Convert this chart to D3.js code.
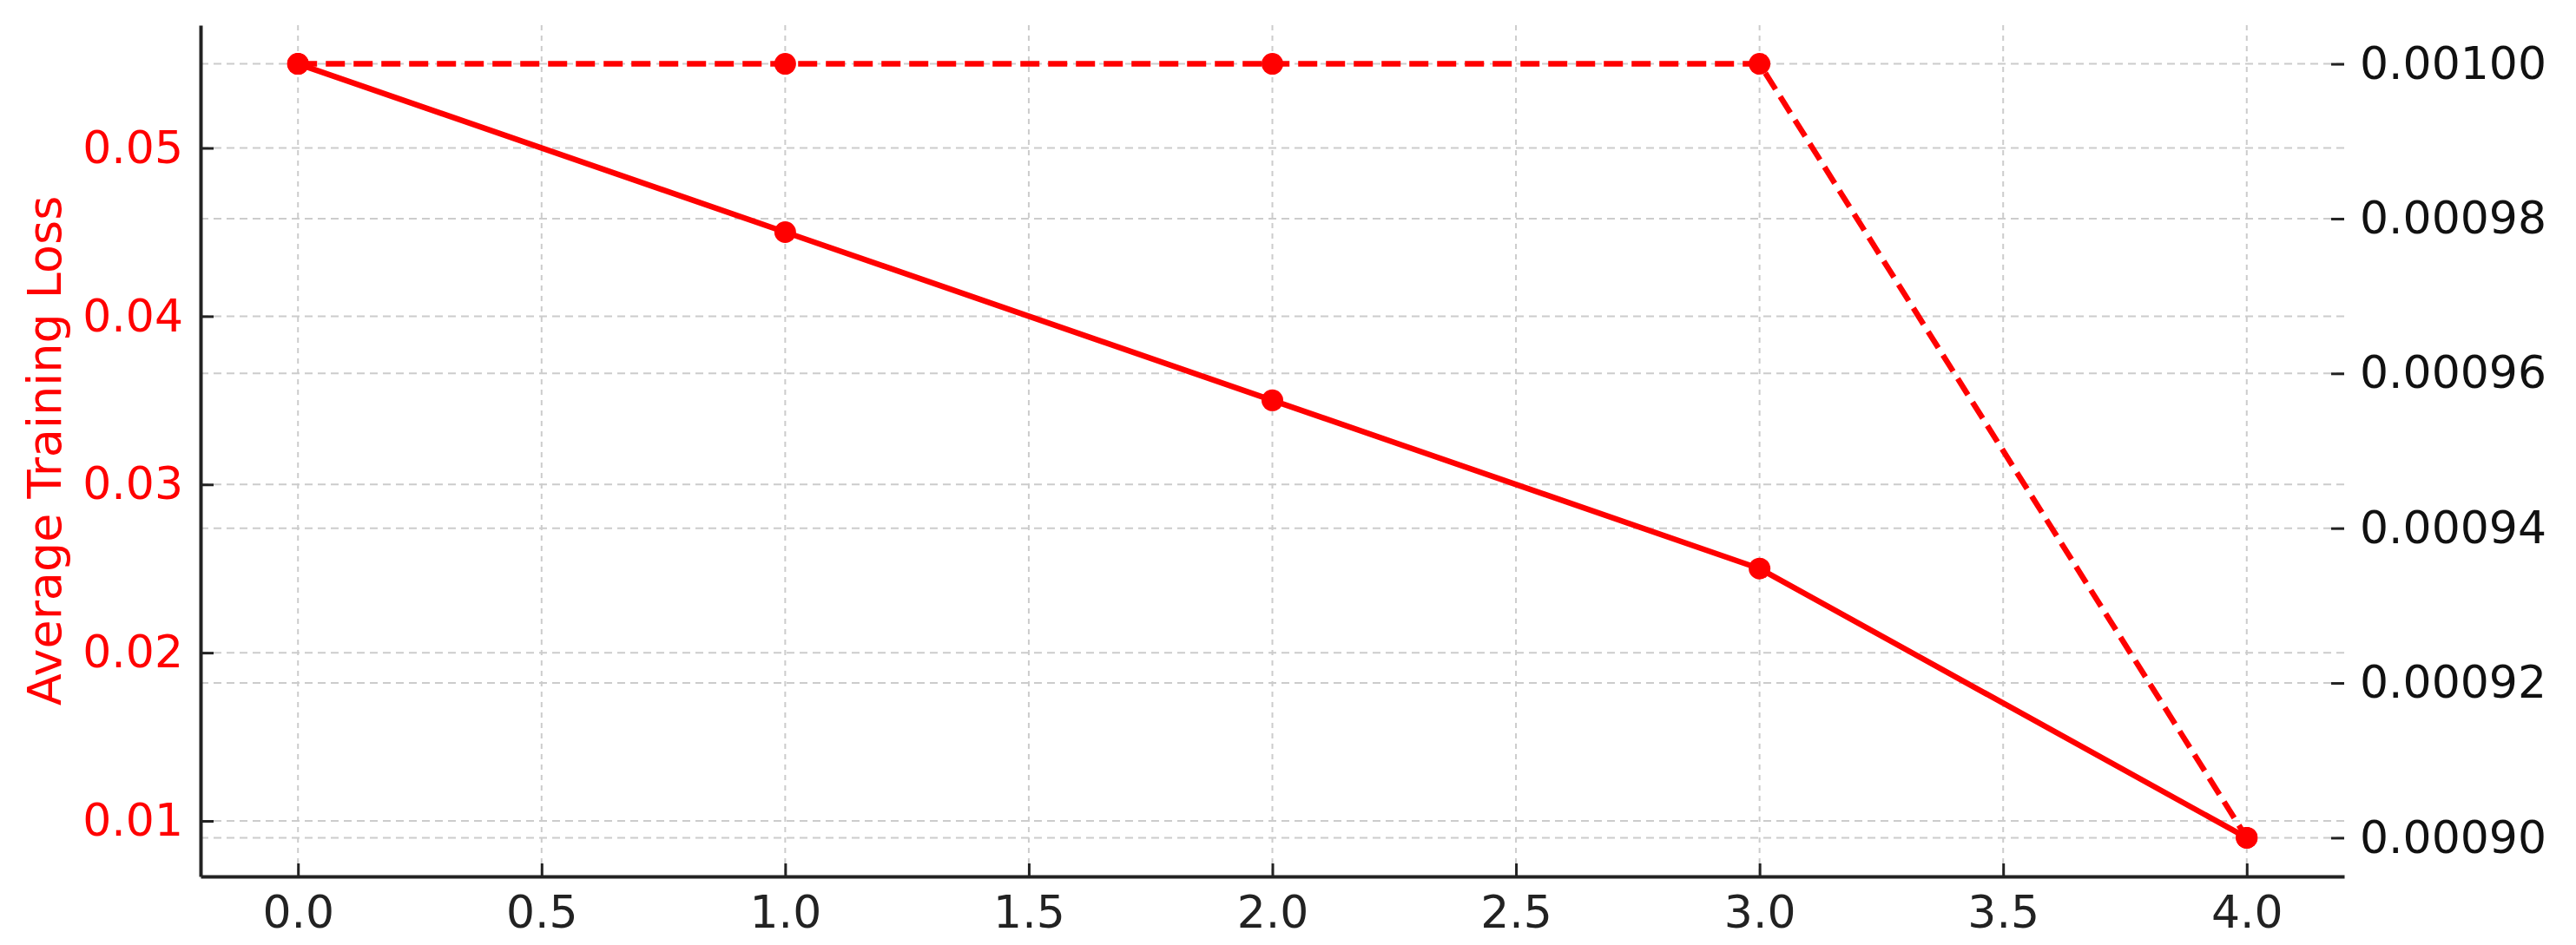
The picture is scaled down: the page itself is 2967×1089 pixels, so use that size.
<!DOCTYPE html>
<html>
<head>
<meta charset="utf-8">
<script src="https://cdn.jsdelivr.net/npm/d3@7"></script>
<style>
  html, body { margin: 0; padding: 0; background: #fff; }
  svg { display: block; }
  text { font-family: "DejaVu Sans", sans-serif; }
</style>
</head>
<body>
<svg id="chart" width="2967" height="1089"></svg>
<script>
// ---- data ----
const epochs = [0, 1, 2, 3, 4];
const avgLoss = [0.055, 0.045, 0.035, 0.025, 0.009];
const learningRate = [0.001, 0.001, 0.001, 0.001, 0.0009];
const xTicks = [0, 0.5, 1, 1.5, 2, 2.5, 3, 3.5, 4];
const lossTicks = [0.01, 0.02, 0.03, 0.04, 0.05];
const lrTicks = [0.0009, 0.00092, 0.00094, 0.00096, 0.00098, 0.001];
const lossLabel = "Average Training Loss";

// ---- layout ----
const plotLeft = 231, plotRight = 2700, plotTop = 29, plotBottom = 1010;
const red = "#ff0000";
const fs = 52;

const svg = d3.select("#chart");

function padded(ext) {
  const r = ext[1] - ext[0];
  return [ext[0] - r * 0.05, ext[1] + r * 0.05];
}

const x = d3.scaleLinear().domain(padded(d3.extent(epochs))).range([plotLeft, plotRight]);
const yL = d3.scaleLinear().domain(padded(d3.extent(avgLoss))).range([plotBottom, plotTop]);
const yR = d3.scaleLinear().domain(padded(d3.extent(learningRate))).range([plotBottom, plotTop]);

// ---- grid ----
const grid = svg.append("g").attr("class", "grid")
  .attr("stroke", "#cccccc").attr("stroke-width", 2).attr("fill", "none");

grid.selectAll("line.vx").data(xTicks).join("line").attr("class", "vx")
  .attr("stroke-dasharray", "6,6")
  .attr("x1", d => x(d)).attr("x2", d => x(d)).attr("y1", plotTop).attr("y2", plotBottom);
grid.selectAll("line.hl").data(lossTicks).join("line").attr("class", "hl")
  .attr("stroke-dasharray", "9,6")
  .attr("x1", plotLeft).attr("x2", plotRight).attr("y1", d => yL(d)).attr("y2", d => yL(d));
grid.selectAll("line.hr").data(lrTicks).join("line").attr("class", "hr")
  .attr("stroke-dasharray", "9,6")
  .attr("x1", plotLeft).attr("x2", plotRight).attr("y1", d => yR(d)).attr("y2", d => yR(d));

// ---- axes ----
const xAxis = d3.axisBottom(x).tickValues(xTicks).tickFormat(d3.format(".1f"))
  .tickSizeInner(-15).tickSizeOuter(0).tickPadding(22);
const gx = svg.append("g").attr("transform", `translate(0,${plotBottom})`).call(xAxis);
gx.select(".domain").attr("stroke", "#222").attr("stroke-width", 4);
gx.selectAll(".tick line").attr("stroke", "#222").attr("stroke-width", 3);
gx.selectAll(".tick text").attr("fill", "#222").attr("font-size", fs)
  .attr("font-family", "DejaVu Sans");

const yAxisL = d3.axisLeft(yL).tickValues(lossTicks).tickFormat(d3.format(".2f"))
  .tickSizeInner(-15).tickSizeOuter(0).tickPadding(20);
const gl = svg.append("g").attr("transform", `translate(${plotLeft},0)`).call(yAxisL);
gl.select(".domain").attr("stroke", "#222").attr("stroke-width", 4);
gl.selectAll(".tick line").attr("stroke", "#222").attr("stroke-width", 3);
gl.selectAll(".tick text").attr("fill", red).attr("font-size", fs)
  .attr("font-family", "DejaVu Sans");

const yAxisR = d3.axisRight(yR).tickValues(lrTicks).tickFormat(d3.format(".5f"))
  .tickSizeInner(-15).tickSizeOuter(0).tickPadding(18);
const gr = svg.append("g").attr("transform", `translate(${plotRight},0)`).call(yAxisR);
gr.select(".domain").remove();
gr.selectAll(".tick line").attr("stroke", "#222").attr("stroke-width", 3);
gr.selectAll(".tick text").attr("fill", "#111").attr("font-size", fs)
  .attr("font-family", "DejaVu Sans");

// y label
svg.append("text")
  .attr("transform", `translate(70,${(plotTop + plotBottom) / 2}) rotate(-90)`)
  .attr("text-anchor", "middle")
  .attr("fill", red).attr("font-size", 54)
  .text(lossLabel);

// ---- series ----
const lossData = epochs.map((e, i) => ({ x: e, y: avgLoss[i] }));
const lrData = epochs.map((e, i) => ({ x: e, y: learningRate[i] }));

const lineL = d3.line().x(d => x(d.x)).y(d => yL(d.y));
const lineR = d3.line().x(d => x(d.x)).y(d => yR(d.y));

svg.append("path").datum(lossData).attr("d", lineL)
  .attr("fill", "none").attr("stroke", red).attr("stroke-width", 6.5).attr("stroke-linejoin", "round");
svg.append("g").selectAll("circle").data(lossData).join("circle")
  .attr("cx", d => x(d.x)).attr("cy", d => yL(d.y)).attr("r", 12.5).attr("fill", red);

svg.append("path").datum(lrData).attr("d", lineR)
  .attr("fill", "none").attr("stroke", red).attr("stroke-width", 6.5)
  .attr("stroke-dasharray", "22,10");
svg.append("g").selectAll("circle").data(lrData).join("circle")
  .attr("cx", d => x(d.x)).attr("cy", d => yR(d.y)).attr("r", 12.5).attr("fill", red);
</script>
</body>
</html>
